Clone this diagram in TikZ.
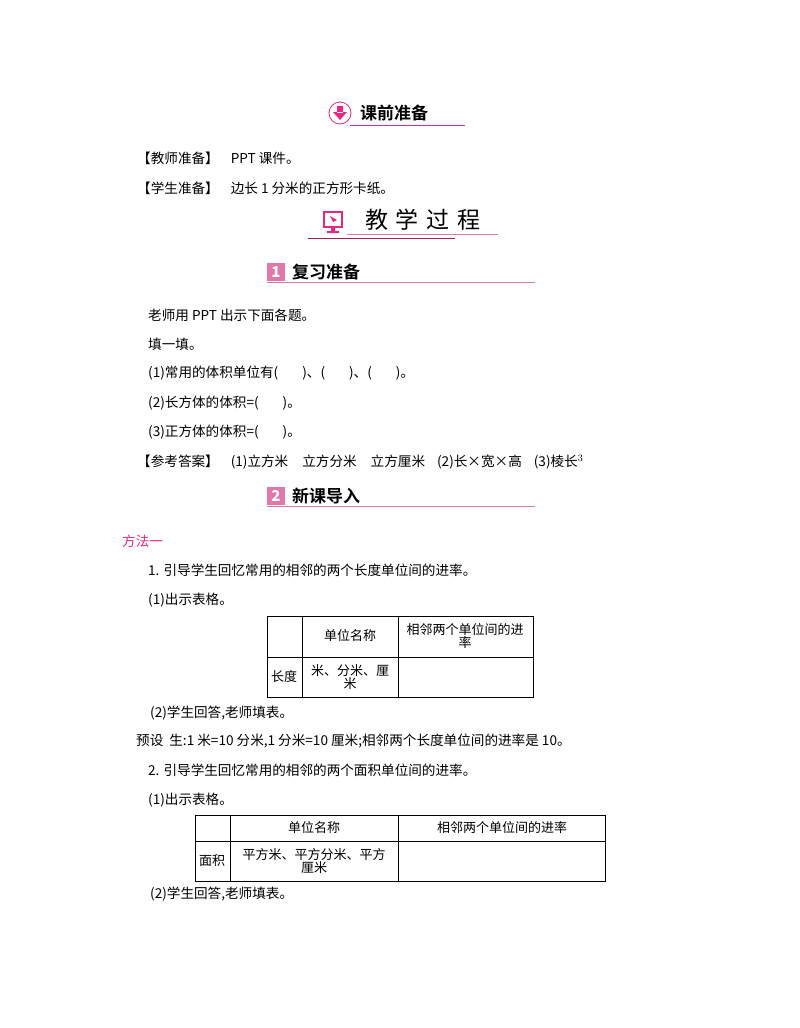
\documentclass[tikz,border=0pt]{standalone}
\usepackage{fontspec}
\setmainfont{Noto Sans CJK SC}
\newfontfamily\cjkb{Noto Sans CJK SC Bold}
\definecolor{mag}{RGB}{230,40,130}
\definecolor{pinkl}{RGB}{225,120,170}
\tikzset{t/.style={anchor=west,inner sep=0,font=\fontsize{13.6}{15}\selectfont},
 cell/.style={align=center,inner sep=0,font=\fontsize{13}{13.5}\selectfont},
 hd/.style={anchor=west,inner sep=0,font=\cjkb\fontsize{17}{18}\selectfont},
 num/.style={fill=pinkl,minimum width=18,minimum height=18,inner sep=0,text=white,font=\bfseries\itshape\fontsize{15}{15}\selectfont}}
\begin{document}
\begin{tikzpicture}[x=1pt,y=-1pt]
\useasboundingbox (0,0) rectangle (800,1028);
% header 1
\node[draw=mag,circle,minimum size=22,inner sep=0,line width=0.8] (ic1) at (340,113) {};
\fill[mag] (337,106) rectangle (343,113) (333,112)--(347,112)--(340,120)--cycle;
\node[hd] (h1) at (360,113) {课前准备};
\draw[mag,line width=0.8] (350,125) -- (465,125);
\node[t] (a1) at (137,158) {【教师准备】\hspace{12pt}PPT 课件。};
\node[t] (a2) at (137,188) {【学生准备】\hspace{12pt}边长 1 分米的正方形卡纸。};
% header 2
\draw[mag,line width=2.5] (324,212) rectangle (342,227);
\fill[mag] (331,228) rectangle (335,231) (327,231) rectangle (339,233);
\fill[mag] (330,216)--(337,220)--(333,222)--cycle;
\node[anchor=west,inner sep=0,font=\fontsize{23}{24}\selectfont] (h2) at (365,220) {教\,\,学\,\,过\,\,程};
\draw[pinkl,line width=0.8] (347,234) -- (498,234);
\draw[mag!70!black,line width=0.8] (308,238) -- (455,238);
% header 3
\node[num] (n1) at (276,272) {1};
\node[hd] (h3) at (292,272) {复习准备};
\draw[pinkl,line width=1] (267,282) -- (535,282);
\node[t] at (148,315) {老师用 PPT 出示下面各题。};
\node[t] at (148,344) {填一填。};
\node[t] at (148,373) {(1)常用的体积单位有(\hspace{24pt})、(\hspace{24pt})、(\hspace{24pt})。};
\node[t] at (148,403) {(2)长方体的体积=(\hspace{24pt})。};
\node[t] at (148,432) {(3)正方体的体积=(\hspace{24pt})。};
\node[t] at (137,462) {【参考答案】\hspace{12pt}(1)立方米\hspace{14pt}立方分米\hspace{14pt}立方厘米\hspace{12pt}(2)长×宽×高\hspace{12pt}(3)棱长$^{3}$};
% header 4
\node[num] (n2) at (276,496) {2};
\node[hd] (h4) at (292,496) {新课导入};
\draw[pinkl,line width=1] (267,506) -- (535,506);
\node[t,text=mag] at (122,541) {方法一};
\node[t] at (148,570) {1. 引导学生回忆常用的相邻的两个长度单位间的进率。};
\node[t] at (148,600) {(1)出示表格。};
% table 1
\draw[line width=0.8] (267,616) rectangle (533,697);
\draw[line width=0.8] (267,657) -- (533,657) (302,616) -- (302,697) (398,616) -- (398,697);
\node[cell] at (350,636) {单位名称};
\node[cell] at (465,636) {相邻两个单位间的进\\率};
\node[cell] at (284,677) {长度};
\node[cell] at (350,677) {米、分米、厘\\米};
\node[t] at (150,713) {(2)学生回答,老师填表。};
\node[t] at (136,741) {预设\hspace{6pt}生:1 米=10 分米,1 分米=10 厘米;相邻两个长度单位间的进率是 10。};
\node[t] at (148,770) {2. 引导学生回忆常用的相邻的两个面积单位间的进率。};
\node[t] at (148,800) {(1)出示表格。};
% table 2
\draw[line width=0.8] (195,815) rectangle (605,881);
\draw[line width=0.8] (195,841) -- (605,841) (230,815) -- (230,881) (398,815) -- (398,881);
\node[cell] at (314,828) {单位名称};
\node[cell] at (502,828) {相邻两个单位间的进率};
\node[cell] at (212,861) {面积};
\node[cell] at (314,861) {平方米、平方分米、平方\\厘米};
\node[t] at (150,894) {(2)学生回答,老师填表。};
\end{tikzpicture}
\end{document}
